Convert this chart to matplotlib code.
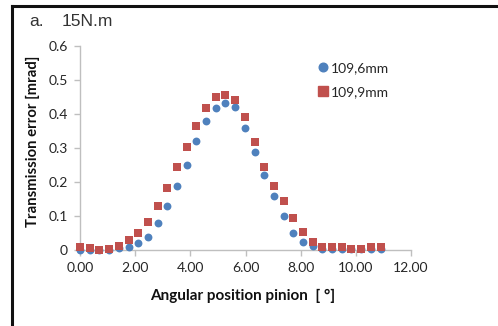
import matplotlib
matplotlib.use("Agg")
import matplotlib.pyplot as plt
from matplotlib.lines import Line2D

angle = [0.00, 0.35, 0.70, 1.05, 1.41, 1.76, 2.11, 2.46, 2.81, 3.16, 3.52,
         3.87, 4.22, 4.57, 4.92, 5.27, 5.63, 5.98, 6.33, 6.68, 7.03, 7.38,
         7.73, 8.09, 8.44, 8.79, 9.14, 9.49, 9.84, 10.20, 10.55, 10.90]
te_1096 = [0.000, 0.000, 0.000, 0.000, 0.005, 0.010, 0.020, 0.037, 0.079, 0.130, 0.189,
           0.250, 0.320, 0.379, 0.419, 0.431, 0.421, 0.360, 0.289, 0.220, 0.160, 0.100,
           0.051, 0.025, 0.012, 0.003, 0.002, 0.002, 0.002, 0.002, 0.002, 0.002]
te_1099 = [0.008, 0.005, 0.000, 0.002, 0.012, 0.028, 0.049, 0.081, 0.128, 0.183, 0.243,
           0.302, 0.365, 0.419, 0.451, 0.457, 0.442, 0.392, 0.319, 0.243, 0.189, 0.144,
           0.093, 0.052, 0.025, 0.010, 0.008, 0.008, 0.004, 0.004, 0.008, 0.008]
series_labels = ["109,6mm", "109,9mm"]
xticks = [0, 2, 4, 6, 8, 10, 12]
yticks = [0, 0.1, 0.2, 0.3, 0.4, 0.5, 0.6]
ytick_labels = ["0", "0.1", "0.2", "0.3", "0.4", "0.5", "0.6"]

blue = "#4F81BD"
red = "#C0504D"
grey = "#BFBFBF"

fig = plt.figure(figsize=(4.98, 3.26), dpi=100)
W, H = 498, 326
ax = fig.add_axes([80 / W, (H - 250) / H, 331 / W, 204 / H])

ax.scatter(angle, te_1096, s=32, marker="o", color=blue, zorder=3, linewidths=0)
ax.scatter(angle, te_1099, s=38, marker="s", color=red, zorder=4, linewidths=0)

ax.set_xlim(0, 12)
ax.set_ylim(0, 0.6)
ax.set_xticks(xticks)
ax.set_xticklabels([f"{v:.2f}" for v in xticks])
ax.set_yticks(yticks)
ax.set_yticklabels(ytick_labels)
for s in ["top", "right"]:
    ax.spines[s].set_visible(False)
for s in ["left", "bottom"]:
    ax.spines[s].set_color(grey)
    ax.spines[s].set_linewidth(1)
ax.tick_params(axis="both", colors=grey, length=4, width=1, labelcolor="#262626",
               labelsize=10)
ax.tick_params(axis="x", pad=5)
ax.tick_params(axis="y", pad=5)
for lab in ax.get_xticklabels() + ax.get_yticklabels():
    lab.set_fontfamily("Lato")
for c in ax.collections:
    c.set_clip_on(False)

fig.text(150 / W, 1 - 296 / H, "Angular position pinion  [ °]",
         fontfamily="Lato", fontweight="bold", fontsize=11, ha="left", va="center",
         color="#111111")
fig.text(33 / W, 1 - 141 / H, "Transmission error [mrad]", rotation=90,
         fontfamily="Lato", fontweight="bold", fontsize=10.7, ha="center", va="center",
         color="#111111")
fig.text(29 / W, 1 - 22 / H, "a.", fontfamily="Liberation Sans",
         fontsize=12.5, ha="left", va="center", color="#333333")
fig.text(62 / W, 1 - 22 / H, "15N.m", fontfamily="Liberation Sans",
         fontsize=12.5, ha="left", va="center", color="#333333")

handles = [Line2D([], [], marker="o", color=blue, linestyle="none", markersize=6.2),
           Line2D([], [], marker="s", color=red, linestyle="none", markersize=6.5)]
leg = fig.legend(handles, series_labels, loc="upper left",
                 bbox_to_anchor=(316 / W, 1 - 62 / H), frameon=False,
                 prop={"family": "Lato", "size": 10}, handletextpad=0.05,
                 handlelength=1.0, labelspacing=0.85, borderpad=0, borderaxespad=0)
for t in leg.get_texts():
    t.set_color("#262626")

# outer frame (left and top edges)
fig.add_artist(Line2D([12 / W, 12 / W], [0, 1 - 6 / H], color="#111111", lw=2.2,
                      transform=fig.transFigure))
fig.add_artist(Line2D([12 / W, 1], [1 - 6 / H, 1 - 6 / H], color="#111111", lw=2.2,
                      transform=fig.transFigure))

fig.savefig("out.png", dpi=100)
